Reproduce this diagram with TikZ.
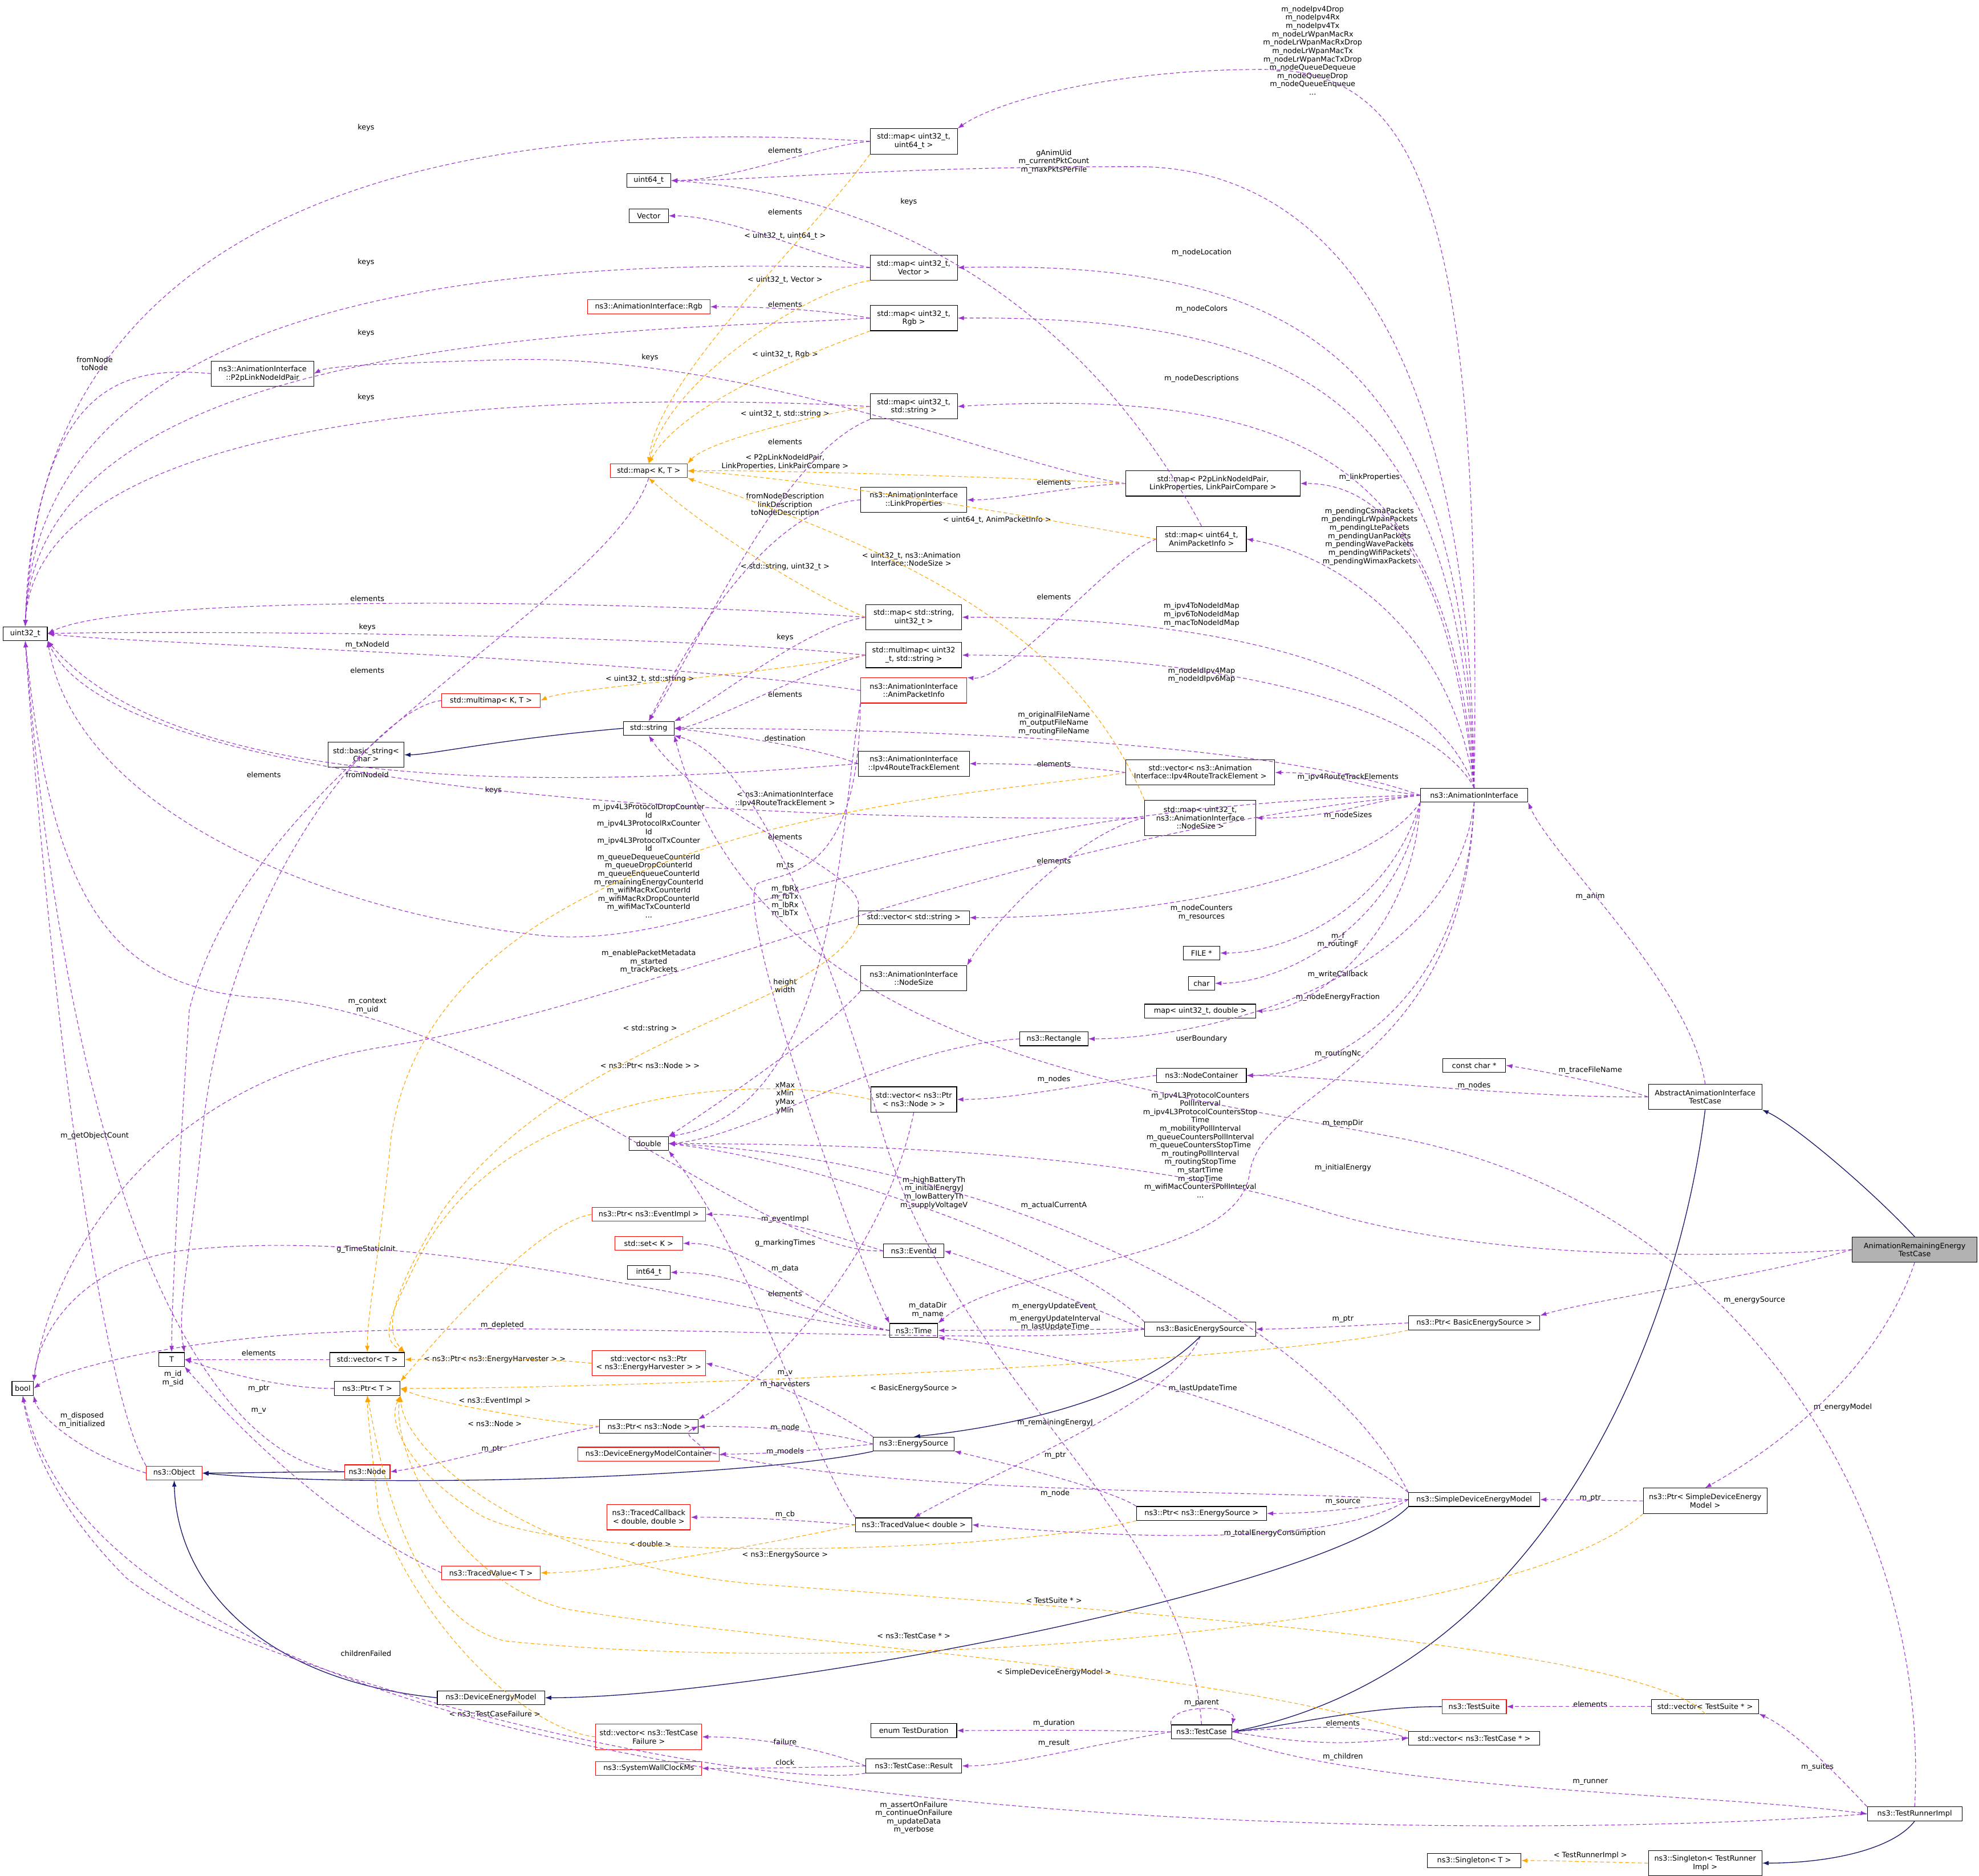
\documentclass[tikz,border=0pt]{standalone}
\usepackage{fontspec}
\setmainfont{DejaVu Sans}
\usetikzlibrary{arrows.meta}
\newcommand\dfs{\fontsize{5.8}{6.6}\selectfont}
\definecolor{ucol}{HTML}{9A32CD}
\definecolor{tcol}{HTML}{FFA500}
\definecolor{icol}{HTML}{191970}
\tikzset{
 bx/.style={draw=black, fill=white, font=\dfs, inner sep=1pt, align=center, minimum height=11pt, line width=0.5pt},
 bx2/.style={bx, minimum height=20pt},
 rb/.style={bx, draw=red},
 rb2/.style={bx2, draw=red},
 lb/.style={font=\dfs, align=center, inner sep=0pt},
 use/.style={draw=ucol, dash pattern=on 3pt off 2pt, line width=0.5pt, -{Latex[length=5pt,width=3.6pt]}},
 tpl/.style={use, draw=tcol},
 inh/.style={draw=icol, line width=0.6pt, -{Latex[length=5pt,width=3.6pt]}}
}
\begin{document}
\begin{tikzpicture}[x=1pt,y=-1pt]
\useasboundingbox (0,0) rectangle (1568,1486);
% ---------- nodes ----------
\node[bx, minimum width=35] (u32) at (20,502) {uint32\_t};
\node[bx, minimum width=17] (boolN) at (18,1100) {bool};
\node[bx, minimum width=20] (Tn) at (136,1077) {T};
\node[rb, minimum width=44] (obj) at (138,1167) {ns3::Object};
\node[bx2, minimum width=81] (p2p) at (208,296) {ns3::AnimationInterface\\::P2pLinkNodeIdPair};
\node[bx, minimum width=35] (u64) at (514,143) {uint64\_t};
\node[bx, minimum width=31] (vec) at (514,171) {Vector};
\node[rb, minimum width=97] (rgb) at (514,243) {ns3::AnimationInterface::Rgb};
\node[rb, minimum width=61] (mapKT) at (514,373) {std::map< K, T >};
\node[bx2, minimum width=84] (linkp) at (724,396) {ns3::AnimationInterface\\::LinkProperties};
\node[rb, minimum width=78] (mmapKT) at (389,555) {std::multimap< K, T >};
\node[bx2, minimum width=60] (bstr) at (290,598) {std::basic\_string<\\Char >};
\node[bx, minimum width=40] (str) at (514,577) {std::string};
\node[bx2, minimum width=69] (m1) at (724,112) {std::map< uint32\_t,\\uint64\_t >};
\node[bx2, minimum width=69] (m2) at (724,212) {std::map< uint32\_t,\\Vector >};
\node[bx2, minimum width=69] (m3) at (724,252) {std::map< uint32\_t,\\Rgb >};
\node[bx2, minimum width=69] (m4) at (724,322) {std::map< uint32\_t,\\std::string >};
\node[bx2, minimum width=76] (m5) at (724,489) {std::map< std::string,\\uint32\_t >};
\node[bx2, minimum width=76] (m6) at (724,519) {std::multimap< uint32\\\_t, std::string >};
\node[rb2, minimum width=84] (api) at (724,547) {ns3::AnimationInterface\\::AnimPacketInfo};
\node[bx2, minimum width=88] (ipv4e) at (724,605) {ns3::AnimationInterface\\::Ipv4RouteTrackElement};
\node[bx, minimum width=88] (vstr) at (724,727) {std::vector< std::string >};
\node[bx2, minimum width=84] (nsz) at (724,775) {ns3::AnimationInterface\\::NodeSize};
\node[bx2, minimum width=138] (mp2p) at (961,383) {std::map< P2pLinkNodeIdPair,\\LinkProperties, LinkPairCompare >};
\node[bx2, minimum width=71] (mapi) at (952,427) {std::map< uint64\_t,\\AnimPacketInfo >};
\node[bx2, minimum width=118] (vipv4) at (951,612) {std::vector< ns3::Animation\\Interface::Ipv4RouteTrackElement >};
\node[bx, minimum width=88, minimum height=28] (mnsz) at (951,648) {std::map< uint32\_t,\\ns3::AnimationInterface\\::NodeSize >};
\node[bx, minimum width=85] (ai) at (1168,630) {ns3::AnimationInterface};
\node[bx, minimum width=29] (file) at (952,755) {FILE *};
\node[bx, minimum width=21] (charN) at (952,779) {char};
\node[bx, minimum width=88] (mdbl) at (951,801) {map< uint32\_t, double >};
\node[bx, minimum width=54] (rect) at (835,823) {ns3::Rectangle};
\node[bx, minimum width=71] (nc) at (952,852) {ns3::NodeContainer};
\node[bx, minimum width=50] (cchar) at (1168,844) {const char *};
\node[bx2, minimum width=90] (aaitc) at (1351,869) {AbstractAnimationInterface\\TestCase};
\node[bx2, minimum width=68] (vpn) at (724,871) {std::vector< ns3::Ptr\\< ns3::Node > >};
\node[bx, minimum width=31] (dbl) at (514,906) {double};
\node[bx2, minimum width=99, fill=black!30] (aretc) at (1517,990) {AnimationRemainingEnergy\\TestCase};
\node[rb, minimum width=90] (pei) at (514,962) {ns3::Ptr< ns3::EventImpl >};
\node[rb, minimum width=54] (setK) at (514,985) {std::set< K >};
\node[bx, minimum width=34] (i64) at (514,1008) {int64\_t};
\node[bx, minimum width=48] (evid) at (724,991) {ns3::EventId};
\node[bx, minimum width=38] (timeN) at (724,1054) {ns3::Time};
\node[bx, minimum width=88] (bes) at (951,1053) {ns3::BasicEnergySource};
\node[bx, minimum width=104] (pbes) at (1168,1048) {ns3::Ptr< BasicEnergySource >};
\node[bx, minimum width=59] (vT) at (291,1077) {std::vector< T >};
\node[bx, minimum width=52] (pT) at (291,1100) {ns3::Ptr< T >};
\node[rb2, minimum width=90] (veh) at (514,1080) {std::vector< ns3::Ptr\\< ns3::EnergyHarvester > >};
\node[bx, minimum width=78] (pnode) at (514,1130) {ns3::Ptr< ns3::Node >};
\node[rb, minimum width=36] (node) at (291,1166) {ns3::Node};
\node[rb, minimum width=112] (demc) at (514,1152) {ns3::DeviceEnergyModelContainer};
\node[bx, minimum width=64] (es) at (724,1144) {ns3::EnergySource};
\node[rb2, minimum width=66] (tcb) at (514,1202) {ns3::TracedCallback\\< double, double >};
\node[bx, minimum width=92] (tvd) at (724,1208) {ns3::TracedValue< double >};
\node[rb, minimum width=78] (tvT) at (389,1246) {ns3::TracedValue< T >};
\node[bx, minimum width=103] (pes) at (952,1199) {ns3::Ptr< ns3::EnergySource >};
\node[bx, minimum width=104] (sdem) at (1168,1188) {ns3::SimpleDeviceEnergyModel};
\node[bx2, minimum width=98] (psdem) at (1351,1189) {ns3::Ptr< SimpleDeviceEnergy\\Model >};
\node[bx, minimum width=85] (dem) at (389,1345) {ns3::DeviceEnergyModel};
\node[bx, minimum width=68] (etd) at (724,1371) {enum TestDuration};
\node[bx, minimum width=48] (tc) at (952,1372) {ns3::TestCase};
\node[rb, minimum width=51] (ts) at (1168,1352) {ns3::TestSuite};
\node[bx, minimum width=85] (vts) at (1351,1352) {std::vector< TestSuite * >};
\node[bx, minimum width=104] (vtc) at (1168,1377) {std::vector< ns3::TestCase * >};
\node[rb2, minimum width=84] (vtcf) at (514,1376) {std::vector< ns3::TestCase\\Failure >};
\node[bx, minimum width=76] (res) at (724,1399) {ns3::TestCase::Result};
\node[rb, minimum width=84] (swc) at (514,1401) {ns3::SystemWallClockMs};
\node[bx, minimum width=75] (tri) at (1517,1437) {ns3::TestRunnerImpl};
\node[bx, minimum width=74] (sgT) at (1168,1474) {ns3::Singleton< T >};
\node[bx2, minimum width=90] (sgtr) at (1351,1476) {ns3::Singleton< TestRunner\\Impl >};
% ---------- labels ----------
\node[lb] (L01) at (1040,40) {m\_nodeIpv4Drop\\m\_nodeIpv4Rx\\m\_nodeIpv4Tx\\m\_nodeLrWpanMacRx\\m\_nodeLrWpanMacRxDrop\\m\_nodeLrWpanMacTx\\m\_nodeLrWpanMacTxDrop\\m\_nodeQueueDequeue\\m\_nodeQueueDrop\\m\_nodeQueueEnqueue\\...};
\node[lb] (L02) at (622,119) {elements};
\node[lb] (L03) at (290,101) {keys};
\node[lb] (L04) at (835,128) {gAnimUid\\m\_currentPktCount\\m\_maxPktsPerFile};
\node[lb] (L05) at (720,160) {keys};
\node[lb] (L06) at (622,168) {elements};
\node[lb] (L07) at (622,187) {< uint32\_t, uint64\_t >};
\node[lb] (L08) at (290,208) {keys};
\node[lb] (L09) at (952,200) {m\_nodeLocation};
\node[lb] (L10) at (622,222) {< uint32\_t, Vector >};
\node[lb] (L11) at (622,241) {elements};
\node[lb] (L12) at (952,245) {m\_nodeColors};
\node[lb] (L13) at (290,264) {keys};
\node[lb] (L14) at (75,288) {fromNode\\toNode};
\node[lb] (L15) at (515,283) {keys};
\node[lb] (L16) at (622,281) {< uint32\_t, Rgb >};
\node[lb] (L17) at (952,300) {m\_nodeDescriptions};
\node[lb] (L18) at (290,315) {keys};
\node[lb] (L19) at (622,328) {< uint32\_t, std::string >};
\node[lb] (L20) at (622,350) {elements};
\node[lb] (L21) at (622,366) {< P2pLinkNodeIdPair,\\LinkProperties, LinkPairCompare >};
\node[lb] (L22) at (1085,378) {m\_linkProperties};
\node[lb] (L23) at (835,382) {elements};
\node[lb] (L24) at (622,400) {fromNodeDescription\\linkDescription\\toNodeDescription};
\node[lb] (L25) at (790,412) {< uint64\_t, AnimPacketInfo >};
\node[lb] (L26) at (1085,425) {m\_pendingCsmaPackets\\m\_pendingLrWpanPackets\\m\_pendingLtePackets\\m\_pendingUanPackets\\m\_pendingWavePackets\\m\_pendingWifiPackets\\m\_pendingWimaxPackets};
\node[lb] (L27) at (722,443) {< uint32\_t, ns3::Animation\\Interface::NodeSize >};
\node[lb] (L28) at (622,449) {< std::string, uint32\_t >};
\node[lb] (L29) at (835,473) {elements};
\node[lb] (L30) at (291,474) {elements};
\node[lb] (L31) at (952,487) {m\_ipv4ToNodeIdMap\\m\_ipv6ToNodeIdMap\\m\_macToNodeIdMap};
\node[lb] (L32) at (291,497) {keys};
\node[lb] (L33) at (622,505) {keys};
\node[lb] (L34) at (291,511) {m\_txNodeId};
\node[lb] (L35) at (952,535) {m\_nodeIdIpv4Map\\m\_nodeIdIpv6Map};
\node[lb] (L36) at (291,531) {elements};
\node[lb] (L37) at (515,538) {< uint32\_t, std::string >};
\node[lb] (L38) at (622,550) {elements};
\node[lb] (L39) at (835,573) {m\_originalFileName\\m\_outputFileName\\m\_routingFileName};
\node[lb] (L40) at (622,585) {destination};
\node[lb] (L41) at (835,605) {elements};
\node[lb] (L42) at (1068,616) {m\_ipv4RouteTrackElements};
\node[lb] (L43) at (209,614) {elements};
\node[lb] (L44) at (291,614) {fromNodeId};
\node[lb] (L45) at (391,626) {keys};
\node[lb] (L46) at (622,633) {< ns3::AnimationInterface\\::Ipv4RouteTrackElement >};
\node[lb] (L47) at (1068,646) {m\_nodeSizes};
\node[lb] (L48) at (514,682) {m\_ipv4L3ProtocolDropCounter\\Id\\m\_ipv4L3ProtocolRxCounter\\Id\\m\_ipv4L3ProtocolTxCounter\\Id\\m\_queueDequeueCounterId\\m\_queueDropCounterId\\m\_queueEnqueueCounterId\\m\_remainingEnergyCounterId\\m\_wifiMacRxCounterId\\m\_wifiMacRxDropCounterId\\m\_wifiMacTxCounterId\\...};
\node[lb] (L49) at (622,663) {elements};
\node[lb] (L50) at (622,686) {m\_ts};
\node[lb] (L51) at (622,714) {m\_fbRx\\m\_fbTx\\m\_lbRx\\m\_lbTx};
\node[lb] (L52) at (835,682) {elements};
\node[lb] (L53) at (952,723) {m\_nodeCounters\\m\_resources};
\node[lb] (L54) at (1060,745) {m\_f\\m\_routingF};
\node[lb] (L55) at (514,762) {m\_enablePacketMetadata\\m\_started\\m\_trackPackets};
\node[lb] (L56) at (1060,772) {m\_writeCallback};
\node[lb] (L57) at (622,781) {height\\width};
\node[lb] (L58) at (1060,790) {m\_nodeEnergyFraction};
\node[lb] (L59) at (291,797) {m\_context\\m\_uid};
\node[lb] (L60) at (515,815) {< std::string >};
\node[lb] (L61) at (952,823) {userBoundary};
\node[lb] (L62) at (1060,835) {m\_routingNc};
\node[lb] (L63) at (515,844) {< ns3::Ptr< ns3::Node > >};
\node[lb] (L64) at (835,855) {m\_nodes};
\node[lb] (L65) at (1168,860) {m\_nodes};
\node[lb] (L66) at (1260,848) {m\_traceFileName};
\node[lb] (L67) at (1260,710) {m\_anim};
\node[lb] (L68) at (622,870) {xMax\\xMin\\yMax\\yMin};
\node[lb] (L69) at (1064,890) {m\_tempDir};
\node[lb] (L70) at (951,907) {m\_ipv4L3ProtocolCounters\\PollInterval\\m\_ipv4L3ProtocolCountersStop\\Time\\m\_mobilityPollInterval\\m\_queueCountersPollInterval\\m\_queueCountersStopTime\\m\_routingPollInterval\\m\_routingStopTime\\m\_startTime\\m\_stopTime\\m\_wifiMacCountersPollInterval\\...};
\node[lb] (L71) at (1064,925) {m\_initialEnergy};
\node[lb] (L72) at (75,900) {m\_getObjectCount};
\node[lb] (L73) at (835,955) {m\_actualCurrentA};
\node[lb] (L74) at (740,945) {m\_highBatteryTh\\m\_initialEnergyJ\\m\_lowBatteryTh\\m\_supplyVoltageV};
\node[lb] (L75) at (622,966) {m\_eventImpl};
\node[lb] (L76) at (622,985) {g\_markingTimes};
\node[lb] (L77) at (290,990) {g\_TimeStaticInit};
\node[lb] (L78) at (622,1005) {m\_data};
\node[lb] (L79) at (622,1025) {elements};
\node[lb] (L80) at (1390,1030) {m\_energySource};
\node[lb] (L81) at (835,1035) {m\_energyUpdateEvent};
\node[lb] (L82) at (735,1038) {m\_dataDir\\m\_name};
\node[lb] (L83) at (398,1050) {m\_depleted};
\node[lb] (L84) at (1064,1045) {m\_ptr};
\node[lb] (L85) at (836,1048) {m\_energyUpdateInterval\\m\_lastUpdateTime};
\node[lb] (L86) at (205,1072) {elements};
\node[lb] (L87) at (392,1077) {< ns3::Ptr< ns3::EnergyHarvester > >};
\node[lb] (L88) at (622,1088) {m\_v};
\node[lb] (L89) at (137,1092) {m\_id\\m\_sid};
\node[lb] (L90) at (205,1100) {m\_ptr};
\node[lb] (L91) at (622,1097) {m\_harvesters};
\node[lb] (L92) at (953,1100) {m\_lastUpdateTime};
\node[lb] (L93) at (724,1100) {< BasicEnergySource >};
\node[lb] (L94) at (392,1110) {< ns3::EventImpl >};
\node[lb] (L95) at (205,1118) {m\_v};
\node[lb] (L96) at (1460,1115) {m\_energyModel};
\node[lb] (L97) at (65,1125) {m\_disposed\\m\_initialized};
\node[lb] (L98) at (836,1127) {m\_remainingEnergyJ};
\node[lb] (L99) at (392,1128) {< ns3::Node >};
\node[lb] (L100) at (622,1131) {m\_node};
\node[lb] (L101) at (390,1148) {m\_ptr};
\node[lb] (L102) at (622,1150) {m\_models};
\node[lb] (L103) at (836,1153) {m\_ptr};
\node[lb] (L104) at (836,1183) {m\_node};
\node[lb] (L105) at (1064,1190) {m\_source};
\node[lb] (L106) at (1260,1187) {m\_ptr};
\node[lb] (L107) at (622,1200) {m\_cb};
\node[lb] (L108) at (1010,1215) {m\_totalEnergyConsumption};
\node[lb] (L109) at (515,1223) {< double >};
\node[lb] (L110) at (622,1232) {< ns3::EnergySource >};
\node[lb] (L111) at (835,1268) {< TestSuite * >};
\node[lb] (L112) at (724,1296) {< ns3::TestCase * >};
\node[lb] (L113) at (290,1310) {childrenFailed};
\node[lb] (L114) at (835,1325) {< SimpleDeviceEnergyModel >};
\node[lb] (L115) at (952,1349) {m\_parent};
\node[lb] (L116) at (1260,1350) {elements};
\node[lb] (L117) at (392,1358) {< ns3::TestCaseFailure >};
\node[lb] (L118) at (835,1365) {m\_duration};
\node[lb] (L119) at (1064,1365) {elements};
\node[lb] (L120) at (622,1380) {failure};
\node[lb] (L121) at (835,1381) {m\_result};
\node[lb] (L122) at (1064,1392) {m\_children};
\node[lb] (L123) at (622,1396) {clock};
\node[lb] (L124) at (1440,1400) {m\_suites};
\node[lb] (L125) at (1260,1412) {m\_runner};
\node[lb] (L126) at (724,1440) {m\_assertOnFailure\\m\_continueOnFailure\\m\_updateData\\m\_verbose};
\node[lb] (L127) at (1260,1470) {< TestRunnerImpl >};
% ---------- AnimationInterface members ----------
\draw[use] (ai.north) .. controls (1175,150) and (1120,55) .. (1000,55) .. controls (880,55) and (790,80) .. (m1.north east);
\draw[use] (ai.north) .. controls (1165,250) and (1040,132) .. (900,132) .. controls (700,132) and (600,143) .. (u64.east);
\draw[use] (ai.north) .. controls (1160,300) and (1050,205) .. (m2.east);
\draw[use] (ai.north) .. controls (1155,330) and (1050,250) .. (m3.east);
\draw[use] (ai.north) .. controls (1150,380) and (1050,305) .. (m4.east);
\draw[use] (ai.north) .. controls (1150,450) and (1100,383) .. (mp2p.east);
\draw[use] (ai.north) .. controls (1150,500) and (1060,440) .. (mapi.east);
\draw[use] (ai.north) .. controls (1140,540) and (1000,489) .. (m5.east);
\draw[use] (ai.north) .. controls (1140,570) and (1000,519) .. (m6.east);
\draw[use] (ai.west) .. controls (1000,585) and (700,577) .. (str.east);
\draw[use] (ai.west) .. controls (1080,625) and (1060,612) .. (vipv4.east);
\draw[use] (ai.west) .. controls (1080,635) and (1060,648) .. (mnsz.east);
\draw[use] (ai.west) .. controls (700,640) and (560,760) .. (420,740) .. controls (250,720) and (60,640) .. (u32.south east);
\draw[use] (ai.west) .. controls (800,660) and (500,800) .. (300,830) .. controls (120,860) and (40,1000) .. (boolN.north east);
\draw[use] (ai.south west) .. controls (1080,700) and (900,727) .. (vstr.east);
\draw[use] (ai.south west) .. controls (1100,720) and (1020,755) .. (file.east);
\draw[use] (ai.south west) .. controls (1110,730) and (1020,779) .. (charN.east);
\draw[use] (ai.south west) .. controls (1120,740) and (1040,801) .. (mdbl.east);
\draw[use] (ai.south) .. controls (1150,780) and (950,823) .. (rect.east);
\draw[use] (ai.south) .. controls (1160,800) and (1050,852) .. (nc.east);
\draw[use] (ai.south) .. controls (1160,850) and (1000,860) .. (990,930) .. controls (980,1000) and (800,1000) .. (timeN.north east);
% ---------- test cases ----------
\draw[use] (aaitc.north) .. controls (1340,780) and (1230,680) .. (ai.south east);
\draw[use] (aaitc.west) .. controls (1280,860) and (1220,848) .. (cchar.east);
\draw[use] (aaitc.west) .. controls (1200,870) and (1050,852) .. (nc.east);
\draw[inh] (aretc.north) .. controls (1480,940) and (1420,890) .. (aaitc.south east);
\draw[inh] (aaitc.south) .. controls (1330,1050) and (1230,1320) .. (tc.east);
\draw[use] (aretc.west) .. controls (1300,1000) and (1150,990) .. (1050,960) .. controls (900,910) and (650,906) .. (dbl.east);
\draw[use] (aretc.west) .. controls (1400,1010) and (1260,1030) .. (pbes.north east);
\draw[use] (aretc.south) .. controls (1490,1080) and (1420,1140) .. (psdem.north);
\draw[use] (tri.north) .. controls (1530,1200) and (1380,950) .. (1100,900) .. controls (900,862) and (600,830) .. (str.south east);
% ---------- maps ----------
\draw[use] (m1.west) .. controls (650,115) and (580,143) .. (u64.east);
\draw[use] (m1.west) .. controls (500,100) and (30,95) .. (u32.north);
\draw[tpl] (m1.south west) .. controls (640,190) and (520,300) .. (mapKT.north);
\draw[use] (m2.west) .. controls (650,205) and (580,171) .. (vec.east);
\draw[use] (m2.west) .. controls (500,208) and (30,200) .. (u32.north);
\draw[tpl] (m2.south west) .. controls (640,230) and (530,300) .. (mapKT.north);
\draw[use] (m3.west) .. controls (650,245) and (600,243) .. (rgb.east);
\draw[use] (m3.west) .. controls (500,264) and (30,260) .. (u32.north);
\draw[tpl] (m3.south west) .. controls (640,280) and (540,320) .. (mapKT.north);
\draw[use] (m4.west) .. controls (500,312) and (30,310) .. (u32.north);
\draw[use] (m4.south west) .. controls (620,360) and (560,500) .. (str.north);
\draw[tpl] (m4.west) .. controls (640,330) and (560,350) .. (mapKT.north east);
\draw[use] (p2p.west) .. controls (100,290) and (30,300) .. (u32.north);
\draw[use] (mp2p.west) .. controls (800,370) and (600,280) .. (400,285) .. controls (300,288) and (260,290) .. (p2p.east);
\draw[use] (mp2p.west) .. controls (850,385) and (800,396) .. (linkp.east);
\draw[tpl] (mp2p.west) .. controls (800,378) and (600,372) .. (mapKT.east);
\draw[use] (linkp.west) .. controls (620,400) and (560,480) .. (str.north);
\draw[use] (mapi.north) .. controls (900,320) and (780,160) .. (u64.east);
\draw[use] (mapi.west) .. controls (880,440) and (800,540) .. (api.north east);
\draw[tpl] (mapi.west) .. controls (820,410) and (650,380) .. (mapKT.east);
\draw[tpl] (mnsz.north west) .. controls (850,500) and (720,440) .. (mapKT.south east);
\draw[use] (m5.west) .. controls (500,475) and (100,470) .. (u32.east);
\draw[use] (m5.west) .. controls (640,495) and (560,560) .. (str.north east);
\draw[tpl] (m5.west) .. controls (640,470) and (560,420) .. (mapKT.south);
\draw[use] (m6.west) .. controls (500,500) and (100,500) .. (u32.east);
\draw[use] (m6.west) .. controls (640,530) and (560,575) .. (str.east);
\draw[tpl] (m6.west) .. controls (600,535) and (450,545) .. (mmapKT.east);
\draw[use] (api.west) .. controls (500,520) and (100,510) .. (u32.east);
\draw[use] (api.south west) .. controls (665,650) and (665,880) .. (dbl.north east);
\draw[use] (api.south west) .. controls (680,700) and (620,690) .. (600,700) .. controls (580,720) and (680,1000) .. (timeN.north west);
\draw[use] (ipv4e.west) .. controls (640,590) and (560,580) .. (str.east);
\draw[use] (ipv4e.west) .. controls (500,620) and (150,640) .. (u32.south east);
\draw[use] (vipv4.west) .. controls (850,606) and (800,605) .. (ipv4e.east);
\draw[tpl] (vipv4.west) .. controls (800,630) and (350,640) .. (310,900) .. controls (300,1000) and (291,1040) .. (vT.north);
\draw[use] (mnsz.west) .. controls (700,650) and (100,640) .. (u32.south east);
\draw[use] (mnsz.west) .. controls (850,660) and (780,740) .. (nsz.north east);
\draw[use] (mapKT.south) .. controls (480,480) and (200,600) .. (150,800) .. controls (140,950) and (136,1040) .. (Tn.north);
\draw[use] (mmapKT.west) .. controls (300,560) and (180,700) .. (160,900) .. controls (150,1000) and (140,1040) .. (Tn.north east);
\draw[inh] (str.west) .. controls (400,585) and (340,598) .. (bstr.east);
\draw[use] (vstr.north west) .. controls (690,690) and (560,650) .. (str.south);
\draw[tpl] (vstr.south west) .. controls (650,800) and (450,820) .. (350,960) .. controls (320,1010) and (300,1050) .. (vT.north east);
\draw[use] (nsz.south west) .. controls (650,820) and (560,880) .. (dbl.north east);
\draw[use] (rect.west) .. controls (700,830) and (600,900) .. (dbl.east);
\draw[use] (vpn.south) .. controls (700,1000) and (600,1100) .. (pnode.north east);
\draw[tpl] (vpn.west) .. controls (600,850) and (400,860) .. (330,1000) .. controls (310,1040) and (300,1060) .. (vT.north east);
\draw[use] (nc.west) .. controls (850,860) and (800,871) .. (vpn.east);
% ---------- energy / time ----------
\draw[use] (evid.west) .. controls (650,975) and (600,962) .. (pei.east);
\draw[use] (evid.west) .. controls (600,995) and (400,800) .. (200,790) .. controls (80,780) and (40,700) .. (u32.south);
\draw[use] (timeN.west) .. controls (640,1040) and (600,985) .. (setK.east);
\draw[use] (timeN.west) .. controls (640,1045) and (600,1008) .. (i64.east);
\draw[use] (timeN.west) .. controls (600,1045) and (350,970) .. (150,990) .. controls (60,1000) and (30,1060) .. (boolN.north east);
\draw[tpl] (pei.west) .. controls (420,970) and (330,1080) .. (pT.north east);
\draw[use] (bes.west) .. controls (850,1030) and (780,1000) .. (evid.east);
\draw[use] (bes.west) .. controls (850,1053) and (780,1054) .. (timeN.east);
\draw[use] (bes.north west) .. controls (850,990) and (650,920) .. (dbl.east);
\draw[use] (bes.south) .. controls (930,1110) and (800,1160) .. (tvd.north);
\draw[use] (bes.west) .. controls (800,1070) and (400,1040) .. (200,1060) .. controls (100,1070) and (40,1090) .. (boolN.east);
\draw[inh] (bes.south) .. controls (900,1110) and (800,1130) .. (es.north);
\draw[use] (pbes.west) .. controls (1080,1050) and (1020,1053) .. (bes.east);
\draw[tpl] (pbes.south west) .. controls (1000,1080) and (500,1100) .. (pT.east);
\draw[use] (es.west) .. controls (640,1130) and (580,1130) .. (pnode.east);
\draw[use] (es.west) .. controls (640,1150) and (600,1152) .. (demc.east);
\draw[use] (es.north west) .. controls (650,1110) and (600,1090) .. (veh.east);
\draw[inh] (es.south west) .. controls (600,1170) and (300,1180) .. (obj.east);
\draw[tpl] (veh.west) .. controls (420,1075) and (350,1077) .. (vT.east);
\draw[use] (pnode.west) .. controls (420,1140) and (350,1160) .. (node.east);
\draw[tpl] (pnode.west) .. controls (420,1125) and (340,1110) .. (pT.east);
\draw[inh] (node.west) .. controls (230,1166) and (190,1167) .. (obj.east);
\draw[use] (node.west) .. controls (180,1160) and (60,1000) .. (u32.south);
\draw[use] (pT.west) .. controls (220,1100) and (170,1085) .. (Tn.east);
\draw[use] (vT.west) .. controls (220,1077) and (170,1077) .. (Tn.east);
\draw[use] (tvT.west) .. controls (250,1200) and (170,1110) .. (Tn.south east);
\draw[use] (obj.west) .. controls (60,1150) and (30,1120) .. (boolN.south east);
\draw[use] (obj.north west) .. controls (80,1100) and (40,800) .. (u32.south);
\draw[use] (tvd.west) .. controls (640,1205) and (600,1202) .. (tcb.east);
\draw[use] (tvd.north west) .. controls (640,1150) and (600,1000) .. (dbl.south east);
\draw[tpl] (tvd.west) .. controls (600,1225) and (480,1246) .. (tvT.east);
\draw[use] (pes.north west) .. controls (880,1180) and (800,1160) .. (es.south east);
\draw[tpl] (pes.south west) .. controls (800,1230) and (450,1240) .. (380,1200) .. controls (330,1170) and (305,1130) .. (pT.south east);
\draw[use] (sdem.west) .. controls (1080,1195) and (1040,1199) .. (pes.east);
\draw[use] (sdem.west) .. controls (1050,1230) and (850,1215) .. (tvd.east);
\draw[use] (sdem.north west) .. controls (1050,1130) and (850,1070) .. (timeN.south east);
\draw[use] (sdem.north west) .. controls (1050,1050) and (800,920) .. (dbl.east);
\draw[use] (sdem.west) .. controls (1000,1180) and (700,1185) .. (560,1150) .. controls (550,1140) and (540,1136) .. (pnode.east);
\draw[inh] (sdem.south west) .. controls (1050,1260) and (600,1345) .. (dem.east);
\draw[use] (psdem.west) .. controls (1280,1189) and (1240,1188) .. (sdem.east);
\draw[tpl] (psdem.south west) .. controls (1200,1290) and (700,1330) .. (400,1300) .. controls (320,1280) and (300,1150) .. (pT.south);
\draw[inh] (dem.west) .. controls (200,1330) and (140,1250) .. (obj.south);
% ---------- tests ----------
\draw[use] (tc.west) .. controls (850,1370) and (800,1371) .. (etd.east);
\draw[use] (tc.west) .. controls (850,1385) and (800,1399) .. (res.east);
\draw[use] (tc.north west) .. controls (925,1350) and (980,1350) .. (tc.north east);
\draw[use] (tc.south east) .. controls (1100,1420) and (1350,1420) .. (tri.west);
\draw[use] (tc.east) .. controls (1050,1385) and (1080,1380) .. (vtc.west);
\draw[use] (tc.north) .. controls (940,1200) and (760,1100) .. (700,900) .. controls (660,760) and (600,600) .. (str.south east);
\draw[inh] (ts.west) .. controls (1080,1352) and (1030,1366) .. (tc.east);
\draw[use] (vtc.west) .. controls (1080,1365) and (1030,1368) .. (tc.east);
\draw[tpl] (vtc.north west) .. controls (950,1320) and (600,1300) .. (450,1275) .. controls (360,1255) and (310,1150) .. (pT.south east);
\draw[use] (vts.west) .. controls (1280,1352) and (1230,1352) .. (ts.east);
\draw[tpl] (vts.south) .. controls (1300,1300) and (800,1270) .. (600,1255) .. controls (420,1240) and (320,1150) .. (pT.south east);
\draw[use] (tri.north west) .. controls (1450,1400) and (1420,1370) .. (vts.south east);
\draw[use] (tri.west) .. controls (1200,1460) and (100,1470) .. (boolN.south);
\draw[inh] (tri.south) .. controls (1500,1465) and (1450,1476) .. (sgtr.east);
\draw[tpl] (sgtr.west) .. controls (1260,1475) and (1230,1474) .. (sgT.east);
\draw[use] (res.west) .. controls (650,1385) and (600,1376) .. (vtcf.east);
\draw[use] (res.west) .. controls (650,1400) and (600,1401) .. (swc.east);
\draw[use] (res.south west) .. controls (600,1420) and (200,1330) .. (100,1250) .. controls (50,1200) and (25,1150) .. (boolN.south);
\draw[tpl] (vtcf.west) .. controls (420,1370) and (340,1300) .. (300,1200) .. controls (295,1150) and (291,1120) .. (pT.south);
\end{tikzpicture}
\end{document}
